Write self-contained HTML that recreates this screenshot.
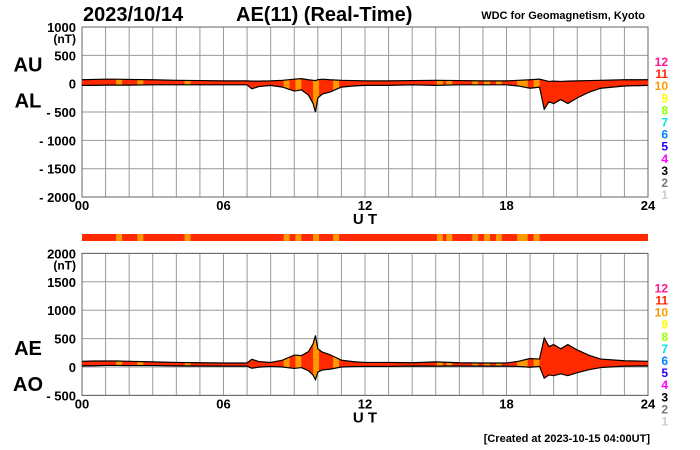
<!DOCTYPE html>
<html><head><meta charset="utf-8"><style>
body{margin:0;background:#fff;width:700px;height:450px;overflow:hidden}
svg{display:block}
text{font-family:"Liberation Sans",sans-serif;font-weight:bold}
</style></head><body>
<svg id="s" width="700" height="450"></svg>
<script>
const hours=[0,0.5,1,1.5,2,3,4,5,6,7,7.2,7.5,8,8.5,9,9.3,9.6,9.8,9.9,10,10.2,10.5,11,11.5,12,13,14,15,16,17,18,18.5,19,19.4,19.6,19.8,20,20.3,20.6,21,21.5,22,23,24];
const auValues=[70,75,80,80,75,70,60,55,50,50,45,45,50,60,80,90,70,60,55,70,80,70,60,55,50,50,55,60,55,50,50,60,70,80,60,40,45,40,45,50,55,60,70,70];
const alValues=[-30,-30,-25,-25,-25,-20,-20,-20,-20,-20,-90,-50,-30,-60,-130,-110,-200,-350,-500,-250,-180,-150,-60,-40,-30,-30,-20,-30,-20,-20,-20,-40,-80,-60,-450,-320,-350,-280,-350,-250,-150,-80,-40,-30];
const orangeStart=[1.45,2.35,4.35,8.55,9.05,9.8,10.65,15.05,15.45,16.55,17.05,17.55,18.45,19.15];
const orangeEnd=[1.7,2.6,4.6,8.8,9.3,10.05,10.9,15.3,15.7,16.8,17.3,17.8,18.9,19.4];
const topTicks=[1000,500,0,-500,-1000,-1500,-2000];
const botTicks=[2000,1500,1000,500,0,-500];
const xTicks=["00","06","12","18","24"];
const legendNums=["12","11","10","9","8","7","6","5","4","3","2","1"];
const legendCols=["#ff1493","#ff2200","#ff9900","#ffff00","#99ff00","#00e5e5","#0080ff","#2200ff","#ff00ff","#000","#777","#ccc"];

const NS="http://www.w3.org/2000/svg",S=document.getElementById('s');
function el(t,a,p){const e=document.createElementNS(NS,t);for(const k in a)e.setAttribute(k,a[k]);(p||S).appendChild(e);return e;}
const X0=82,X1=648;
const x=h=>X0+(X1-X0)*h/24;
const yTop=v=>83.7-v*170/3000;
const yBot=v=>367-v*142/2500;

function txt(s,a,name){const e=el('text',a);e.textContent=s;return e;}

function panel(yf,ticks,top,bot,series1,series2,id,labels){
  const g=el('g',{});
  
  
  for(let h=0;h<=24;h++)el('line',{x1:x(h),x2:x(h),y1:yf(top),y2:yf(bot),stroke:'#999','stroke-width':1},g);
  ticks.forEach(v=>{el('line',{x1:X0,x2:X1,y1:yf(v),y2:yf(v),stroke:'#999','stroke-width':1},g);
    const t=txt(v<0?'- '+(-v):String(v),{x:76,y:yf(v)+5,'font-size':13,'text-anchor':'end'},'y-tick-label');});
  el('rect',{x:X0,y:yf(top),width:X1-X0,height:yf(bot)-yf(top),fill:'none',stroke:'#666'},g);
  txt('(nT)',{x:76,y:yf(top)+16,'font-size':12,'text-anchor':'end'},'y-unit');
  xTicks.forEach((s,i)=>txt(s,{x:x(i*6),y:yf(bot)+13,'font-size':13,'text-anchor':'middle'},'x-tick-label'));
  txt('U T',{x:x(12),y:yf(bot)+27,'font-size':15,'text-anchor':'middle'},'x-axis-title');
  const up=hours.map((h,i)=>x(h)+','+yf(series1[i])).join(' ');
  const lo=hours.map((h,i)=>x(h)+','+yf(series2[i])).reverse().join(' ');
  const cp=el('clipPath',{id:'cp'+id},g);el('polygon',{points:up+' '+lo},cp);
  const area=el('polygon',{points:up+' '+lo,fill:'#ff2a00'},g);
  
  orangeStart.forEach((s,i)=>{const r=el('rect',{x:x(s),y:yf(top),width:x(orangeEnd[i])-x(s),height:yf(bot)-yf(top),fill:'#ff9900','clip-path':'url(#cp'+id+')'},g);
    });
  el('polyline',{points:up,fill:'none',stroke:'#000','stroke-width':1.2},g);
  el('polyline',{points:lo,fill:'none',stroke:'#000','stroke-width':1.2},g);
  legendNums.forEach((n,i)=>txt(n,{x:668,y:yf(top)+39+i*12.1,'font-size':12,'text-anchor':'end',fill:legendCols[i]},'legend-entry'));
  txt(labels[0],{x:28,y:yf(0)-12,'font-size':20,'text-anchor':'middle'},'series-label-upper');
  txt(labels[1],{x:28,y:yf(0)+24,'font-size':20,'text-anchor':'middle'},'series-label-lower');
}
panel(yTop,topTicks,1000,-2000,auValues,alValues,'au-al',['AU','AL']);
const aeValues=auValues.map((u,i)=>u-alValues[i]);
const aoValues=auValues.map((u,i)=>(u+alValues[i])/2);
panel(yBot,botTicks,2000,-500,aeValues,aoValues,'ae-ao',['AE','AO']);
const bar=el('rect',{x:X0,y:234,width:X1-X0,height:7,fill:'#ff2a00'});

orangeStart.forEach((s,i)=>{const r=el('rect',{x:x(s),y:234,width:x(orangeEnd[i])-x(s),height:7,fill:'#ff9900'});
  });
txt('2023/10/14',{x:83,y:21,'font-size':20},'chart-date');
txt('AE(11) (Real-Time)',{x:236,y:21,'font-size':20},'chart-title');
txt('WDC for Geomagnetism, Kyoto',{x:645,y:19,'font-size':11,'text-anchor':'end'},'source-label');
txt('[Created at 2023-10-15 04:00UT]',{x:650,y:442,'font-size':11,'text-anchor':'end'},'created-label');
</script></body></html>
